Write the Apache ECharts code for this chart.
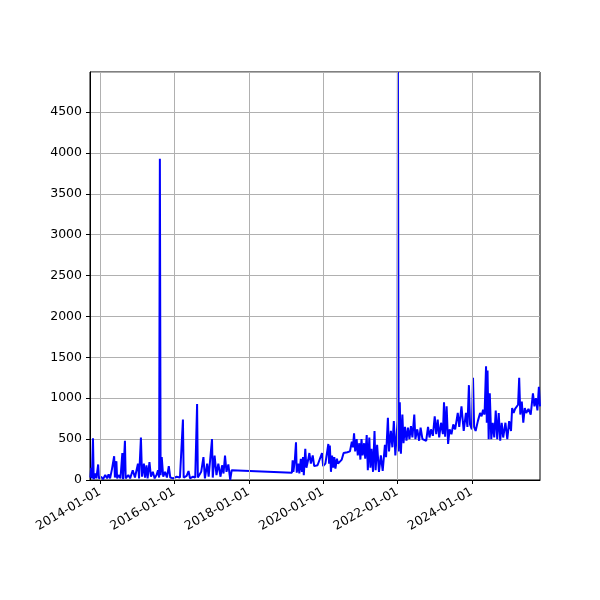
<!DOCTYPE html>
<html>
<head>
<meta charset="UTF-8">
<script src="https://cdn.jsdelivr.net/npm/echarts@6/dist/echarts.min.js"></script>
</head>
<body style="margin:0">
<div id="main" style="width:600px;height:600px;"></div>
<script>
// decimal years and values
var years = [2013.74,2013.76,2013.78,2013.81,2013.83,2013.87,2013.90,2013.95,2013.97,2014.03,2014.08,2014.14,2014.19,2014.23,2014.27,2014.32,2014.38,2014.40,2014.44,2014.46,2014.50,2014.55,2014.60,2014.62,2014.67,2014.69,2014.76,2014.81,2014.88,2014.94,2015.02,2015.05,2015.10,2015.13,2015.18,2015.21,2015.25,2015.28,2015.33,2015.37,2015.42,2015.47,2015.52,2015.56,2015.59,2015.61,2015.63,2015.66,2015.70,2015.75,2015.80,2015.85,2015.89,2015.97,2016.06,2016.15,2016.23,2016.25,2016.33,2016.38,2016.42,2016.50,2016.56,2016.61,2016.63,2016.72,2016.78,2016.82,2016.88,2016.92,2017.01,2017.03,2017.08,2017.13,2017.18,2017.24,2017.28,2017.32,2017.36,2017.40,2017.45,2017.50,2017.54,2017.58,
2019.16,2019.18,2019.20,2019.24,2019.27,2019.29,2019.33,2019.36,2019.40,2019.43,2019.46,2019.48,2019.52,2019.55,2019.60,2019.63,2019.67,2019.72,2019.76,2019.85,2019.90,2019.97,2020.00,2020.06,2020.10,2020.14,2020.16,2020.18,2020.21,2020.24,2020.27,2020.30,2020.33,2020.37,2020.40,2020.50,2020.55,2020.65,2020.72,2020.77,2020.80,2020.83,2020.86,2020.90,2020.93,2020.97,2021.00,2021.03,2021.06,2021.10,2021.13,2021.17,2021.20,2021.24,2021.27,2021.30,2021.34,2021.38,2021.41,2021.45,2021.50,2021.55,2021.60,2021.66,2021.69,2021.74,2021.77,2021.82,2021.86,2021.90,2021.94,2022.00,2022.01,2022.03,2022.06,2022.09,2022.13,2022.16,2022.20,2022.24,2022.28,2022.32,2022.36,2022.40,2022.45,2022.48,2022.53,2022.58,2022.62,2022.67,2022.72,2022.77,2022.82,2022.86,2022.90,2022.95,2023.00,2023.04,2023.08,2023.12,2023.17,2023.22,2023.25,2023.28,2023.32,2023.36,2023.40,2023.45,2023.50,2023.55,2023.62,2023.66,2023.72,2023.78,2023.84,2023.88,2023.92,2023.95,2024.00,2024.03,2024.06,2024.10,2024.16,2024.22,2024.26,2024.30,2024.34,2024.38,2024.40,2024.42,2024.45,2024.48,2024.52,2024.56,2024.60,2024.64,2024.68,2024.72,2024.76,2024.80,2024.84,2024.90,2024.95,2025.00,2025.05,2025.08,2025.12,2025.16,2025.20,2025.24,2025.27,2025.30,2025.34,2025.38,2025.42,2025.46,2025.52,2025.58,2025.64,2025.68,2025.72,2025.76,2025.80,2025.83];
var values = [30,150,20,510,10,80,20,190,20,40,10,60,20,70,20,130,290,30,230,20,60,20,330,10,480,20,60,20,120,30,200,20,520,40,200,30,180,20,220,40,100,20,60,120,30,3930,60,280,40,100,30,170,30,20,40,30,740,30,50,110,20,40,30,930,30,100,280,20,200,40,500,30,300,60,200,40,180,80,300,100,190,0,120,120,
90,240,100,250,460,90,200,80,260,100,280,60,380,150,250,330,200,300,170,180,190,330,170,200,180,440,200,420,100,300,150,280,140,260,200,250,330,340,350,470,400,570,350,500,300,450,250,500,300,450,260,550,120,520,150,380,100,600,120,430,100,300,110,430,280,760,350,600,400,720,300,720,4990,350,950,320,800,450,650,480,640,500,660,520,800,500,620,480,640,500,520,480,650,520,620,540,780,560,740,520,700,560,950,530,900,440,620,560,680,620,820,650,900,600,820,650,1160,680,620,1250,650,600,720,820,780,860,800,1390,700,1340,500,1060,500,700,520,850,500,820,480,700,520,700,500,720,600,880,820,870,850,920,1250,800,960,700,880,820,870,800,1060,900,1000,850,1140,900];
var tickYears = [2014, 2016, 2018, 2020, 2022, 2024];

function ts(y) {
    var yr = Math.floor(y);
    var a = Date.UTC(yr, 0, 1), b = Date.UTC(yr + 1, 0, 1);
    return a + (y - yr) * (b - a);
}
function pad(n) { return n < 10 ? '0' + n : '' + n; }

var data = years.map(function (y, i) { return [ts(y), values[i]]; });
var tickTs = tickYears.map(function (y) { return Date.UTC(y, 0, 1); });

var chart = echarts.init(document.getElementById('main'));
chart.setOption({
    animation: false,
    grid: { left: 90, right: 60, top: 72, bottom: 120, show: true, borderColor: '#000', borderWidth: 1 },
    xAxis: {
        type: 'value',
        min: ts(2013.73), max: ts(2025.83),
        axisLine: { lineStyle: { color: '#000' } },
        axisTick: { customValues: tickTs, length: 4, inside: false, lineStyle: { color: '#000' } },
        axisLabel: {
            customValues: tickTs, rotate: 30, color: '#000', fontSize: 12.5,
            fontFamily: 'DejaVu Sans', margin: 11,
            formatter: function (v) {
                var d = new Date(v);
                return d.getUTCFullYear() + '-' + pad(d.getUTCMonth() + 1) + '-' + pad(d.getUTCDate());
            }
        },
        splitLine: { show: false }
    },
    yAxis: {
        type: 'value', min: 0, max: 4990, interval: 500,
        axisLine: { show: true, lineStyle: { color: '#000' } },
        axisTick: { show: true, length: 4, lineStyle: { color: '#000' } },
        axisLabel: { color: '#000', fontSize: 12.5, fontFamily: 'DejaVu Sans', showMaxLabel: false,
            formatter: function (v) { return String(v); } },
        splitLine: { lineStyle: { color: '#b0b0b0' } }
    },
    series: [{
        type: 'line',
        data: data,
        showSymbol: false,
        lineStyle: { color: '#0000ff', width: 2 },
        markLine: {
            silent: true, symbol: 'none', label: { show: false },
            lineStyle: { color: '#b0b0b0', type: 'solid', width: 1 },
            data: tickTs.map(function (t) { return { xAxis: t }; })
        }
    }]
});
</script>
</body>
</html>
